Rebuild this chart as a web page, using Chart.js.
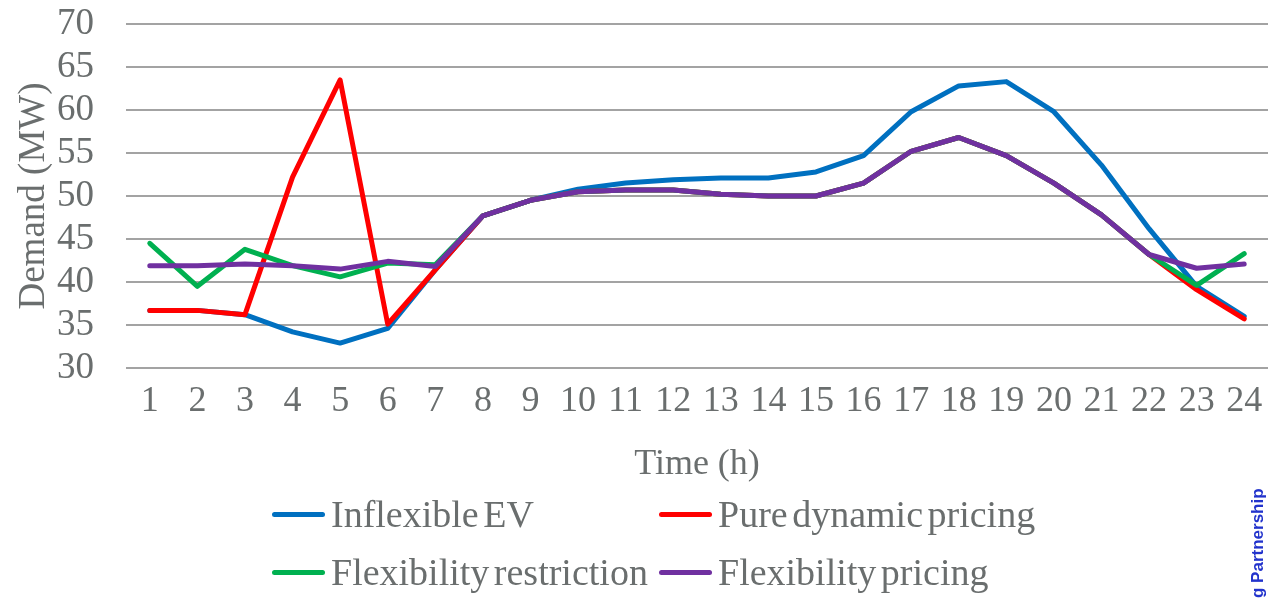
<!DOCTYPE html>
<html>
<head>
<meta charset="utf-8">
<script src="https://cdn.jsdelivr.net/npm/chart.js@4/dist/chart.umd.min.js"></script>
<style>
  html, body { margin: 0; padding: 0; background: #fff; overflow: hidden; }
  #wrap { position: relative; width: 1269px; height: 598px; overflow: hidden; }
  #chart { position: absolute; left: 0; top: 0; }
  .legend { position: absolute; left: 0; top: 0; font-family: "Liberation Serif", "Times New Roman", serif;
            font-size: 38px; color: #6a6e6e; white-space: nowrap; line-height: 1; }
  .legend .item { position: absolute; display: flex; align-items: center; }
  .legend .swatch { width: 53px; height: 5px; border-radius: 3px; margin-right: 6px; }
  .legend .txt { word-spacing: -5px; }
  #side { position: absolute; left: 1248px; top: 598px; transform-origin: 0 0; transform: rotate(-90deg);
          font-family: "Liberation Sans", Arial, sans-serif; font-weight: bold; font-size: 17px; line-height: 20px;
          color: #2233cc; white-space: nowrap; }
</style>
</head>
<body>
<div id="wrap">
  <canvas id="chart" width="1269" height="598"></canvas>
  <div class="legend" id="legend"></div>
  <div id="side">g Partnership</div>
</div>
<script>
// Hours of the day
const hours = ['1','2','3','4','5','6','7','8','9','10','11','12','13','14','15','16','17','18','19','20','21','22','23','24'];

// Demand (MW) per hour for each charging scheme
const inflexibleEV = [36.7, 36.7, 36.2, 34.2, 32.9, 34.6, 41.4, 47.7, 49.5, 50.8, 51.5, 51.9, 52.1, 52.1, 52.8, 54.7, 59.8, 62.8, 63.3, 59.8, 53.6, 46.2, 39.5, 36.0];
const pureDynamicPricing = [36.7, 36.7, 36.2, 52.2, 63.5, 35.1, 41.4, 47.7, 49.5, 50.5, 50.7, 50.7, 50.2, 50.0, 50.0, 51.5, 55.2, 56.8, 54.7, 51.5, 47.8, 43.2, 39.1, 35.7];
const flexibilityRestriction = [44.5, 39.5, 43.8, 41.9, 40.6, 42.2, 42.0, 47.7, 49.5, 50.5, 50.7, 50.7, 50.2, 50.0, 50.0, 51.5, 55.2, 56.8, 54.7, 51.5, 47.8, 43.2, 39.6, 43.3];
const flexibilityPricing = [41.9, 41.9, 42.1, 41.9, 41.5, 42.4, 41.8, 47.7, 49.5, 50.5, 50.7, 50.7, 50.2, 50.0, 50.0, 51.5, 55.2, 56.8, 54.7, 51.5, 47.8, 43.2, 41.6, 42.1];

const yTicks = [30, 35, 40, 45, 50, 55, 60, 65, 70];

const seriesNames = ['Inflexible EV', 'Pure dynamic pricing', 'Flexibility restriction', 'Flexibility pricing'];
const seriesColors = ['#0070C0', '#FF0000', '#00B050', '#7030A0'];
const seriesData = [inflexibleEV, pureDynamicPricing, flexibilityRestriction, flexibilityPricing];

const textGray = '#6a6e6e';
const serif = '"Liberation Serif", "Times New Roman", serif';

const datasets = seriesNames.map((name, i) => ({
  label: name,
  data: seriesData[i],
  borderColor: seriesColors[i],
  backgroundColor: seriesColors[i],
  borderWidth: 5,
  pointRadius: 0,
  tension: 0,
  fill: false,
  borderJoinStyle: 'round',
  borderCapStyle: 'round',
  order: seriesNames.length - i
}));

new Chart(document.getElementById('chart'), {
  type: 'line',
  data: { labels: hours, datasets },
  options: {
    responsive: false,
    animation: false,
    layout: { padding: { top: 24, right: 1, bottom: 112, left: 0 } },
    plugins: { legend: { display: false }, tooltip: { enabled: false } },
    scales: {
      x: {
        offset: true,
        grid: { display: false, drawTicks: false },
        border: { display: false },
        ticks: { color: textGray, font: { family: serif, size: 36 }, padding: 12, maxRotation: 0, autoSkip: false },
        title: { display: true, text: 'Time (h)', color: textGray, font: { family: serif, size: 36 }, padding: { top: 0, bottom: 0 } },
        afterFit(scale) {
          scale.height = 118;
          scale.paddingLeft = 0;
          scale.paddingRight = 0;
        }
      },
      y: {
        min: 30, max: 70,
        afterBuildTicks(scale) { scale.ticks = yTicks.map(v => ({ value: v })); },
        grid: { color: '#a3a3a3', lineWidth: 2, drawTicks: false },
        border: { display: false },
        ticks: { color: textGray, font: { family: serif, size: 37 }, padding: 32, autoSkip: false },
        title: { display: true, text: 'Demand (MW)', color: textGray, font: { family: serif, size: 37 }, padding: { top: 12, bottom: 0 } },
        afterFit(scale) {
          scale.width = 126;
          scale.paddingTop = 0;
          scale.paddingBottom = 0;
        }
      }
    }
  }
});

// Two-column legend below the plot
const legend = document.getElementById('legend');
const slots = [[272, 514], [659, 514], [272, 572], [659, 572]];
seriesNames.forEach((name, i) => {
  const item = document.createElement('div');
  item.className = 'item';
  item.style.left = slots[i][0] + 'px';
  item.style.top = (slots[i][1] - 19) + 'px';
  item.style.height = '38px';
  const sw = document.createElement('div');
  sw.className = 'swatch';
  sw.style.background = seriesColors[i];
  const tx = document.createElement('span');
  tx.className = 'txt';
  tx.textContent = name;
  item.appendChild(sw);
  item.appendChild(tx);
  legend.appendChild(item);
});
</script>
</body>
</html>
